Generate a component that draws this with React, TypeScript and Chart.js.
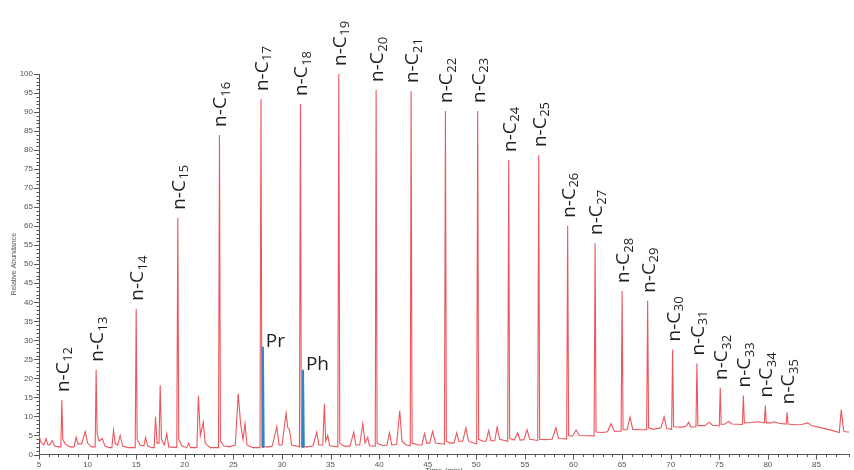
import { useEffect, useRef } from 'react';
import { Chart, registerables } from 'chart.js';

Chart.register(...registerables);

// n-alkane peaks: carbon number, retention time (min), relative abundance (%)
const alkaneCarbon = [12, 13, 14, 15, 16, 17, 18, 19, 20, 21, 22, 23, 24, 25, 26, 27, 28, 29, 30, 31, 32, 33, 34, 35];
const alkaneTime = [7.35, 10.88, 15.0, 19.28, 23.57, 27.84, 31.9, 35.85, 39.69, 43.29, 46.82, 50.14, 53.33, 56.42, 59.4, 62.22, 65.0, 67.63, 70.2, 72.7, 75.1, 77.48, 79.74, 81.98];
const alkaneAbundance = [14.3, 22.3, 38.3, 62.2, 84.0, 93.4, 92.1, 100, 95.8, 95.5, 90.3, 90.3, 77.4, 78.7, 60.1, 55.6, 43.0, 40.4, 27.6, 23.9, 17.5, 15.5, 12.9, 11.1];

// Isoprenoids: pristane and phytane
const isoprenoidName = ['Pr', 'Ph'];
const isoprenoidTime = [28.03, 32.16];
const isoprenoidAbundance = [28.3, 22.3];
const isoprenoidBase = [2.0, 2.0];

// Baseline and minor peaks of the TIC trace [time, abundance]
const backgroundTrace: [number, number][] = [
  [5.0, 5.0], [5.2, 3.2], [5.5, 2.5], [5.74, 4.2], [5.9, 2.6], [6.1, 2.5], [6.36, 3.7], [6.6, 2.2], [7.0, 2.0], [7.25, 2.0],
  [7.45, 4.0], [7.7, 2.8], [8.2, 2.0], [8.6, 2.0], [8.83, 4.5], [9.0, 2.8], [9.4, 2.8], [9.75, 6.0], [10.0, 3.0], [10.4, 2.0], [10.78, 2.0],
  [10.98, 5.5], [11.2, 3.5], [11.5, 4.2], [11.8, 2.2], [12.2, 1.8], [12.5, 1.8], [12.67, 6.4], [12.85, 2.8], [13.1, 2.5], [13.35, 5.0], [13.6, 2.2], [14.2, 1.8], [14.9, 1.8],
  [15.1, 4.0], [15.4, 2.5], [15.8, 2.3], [15.96, 4.5], [16.2, 2.2], [16.6, 1.8], [16.85, 1.8], [16.99, 9.9], [17.15, 3.0], [17.35, 3.0], [17.47, 18.2], [17.6, 4.0], [17.9, 2.5], [18.15, 5.5], [18.35, 2.0], [19.18, 1.8],
  [19.38, 4.0], [19.7, 2.3], [20.2, 1.8], [20.4, 3.0], [20.6, 1.8], [21.25, 1.8], [21.4, 15.5], [21.6, 5.0], [21.9, 8.5], [22.1, 3.0], [22.6, 1.8], [23.47, 1.8],
  [23.67, 3.5], [24.0, 2.3], [24.6, 2.0], [25.2, 2.5], [25.5, 16.0], [25.75, 8.0], [26.0, 4.0], [26.2, 8.1], [26.4, 2.5], [27.0, 1.8], [27.74, 1.8],
  [27.95, 2.0], [28.6, 2.0], [29.0, 2.2], [29.47, 7.3], [29.7, 2.5], [30.0, 2.5], [30.43, 10.8], [30.6, 7.0], [30.77, 6.5], [31.0, 2.5], [31.8, 2.0],
  [32.0, 2.0], [32.6, 2.0], [33.2, 2.3], [33.58, 5.9], [33.8, 2.5], [34.2, 2.5], [34.37, 13.3], [34.5, 3.5], [34.71, 5.0], [34.9, 2.3], [35.75, 2.0],
  [35.95, 3.0], [36.4, 2.2], [37.0, 2.2], [37.39, 5.9], [37.6, 2.5], [38.0, 2.5], [38.32, 8.1], [38.55, 3.0], [38.83, 4.5], [39.0, 2.3], [39.6, 2.2],
  [39.79, 3.0], [40.4, 2.3], [40.8, 2.5], [41.06, 5.7], [41.3, 2.5], [41.8, 2.7], [42.12, 11.5], [42.35, 3.5], [42.8, 2.5], [43.2, 2.3],
  [43.39, 3.0], [44.0, 2.5], [44.4, 2.5], [44.66, 5.5], [44.9, 3.0], [45.2, 3.0], [45.5, 6.1], [45.8, 3.0], [46.72, 2.7],
  [46.92, 3.5], [47.3, 3.0], [47.7, 3.0], [47.98, 5.7], [48.2, 3.5], [48.6, 3.5], [48.93, 7.0], [49.2, 3.5], [49.7, 3.0], [50.04, 2.8],
  [50.24, 4.0], [50.7, 3.5], [51.0, 3.5], [51.27, 6.3], [51.5, 3.6], [51.9, 3.6], [52.14, 7.2], [52.4, 4.0], [53.23, 3.5],
  [53.43, 4.2], [53.9, 3.8], [54.26, 5.7], [54.5, 3.8], [54.9, 3.9], [55.22, 6.5], [55.5, 4.0], [56.32, 3.7],
  [56.52, 4.0], [57.0, 3.9], [57.8, 4.0], [58.2, 7.0], [58.45, 4.2], [59.3, 4.1],
  [59.5, 5.0], [59.9, 4.8], [60.26, 6.5], [60.6, 5.0], [62.12, 4.9],
  [62.32, 5.9], [63.0, 5.8], [63.5, 6.0], [63.87, 8.1], [64.2, 6.1], [64.9, 6.1],
  [65.1, 6.5], [65.5, 6.5], [65.82, 9.8], [66.1, 6.6], [67.0, 6.5], [67.53, 6.5],
  [67.73, 7.0], [68.2, 6.6], [69.0, 7.0], [69.32, 9.9], [69.6, 6.8], [70.1, 6.6],
  [70.3, 7.3], [71.2, 7.2], [71.6, 7.4], [71.85, 8.5], [72.1, 7.2], [72.6, 7.3],
  [72.8, 7.6], [73.5, 7.6], [73.97, 8.5], [74.3, 7.7], [75.0, 7.5],
  [75.2, 7.9], [75.6, 8.0], [75.94, 8.7], [76.3, 8.0], [77.38, 7.9],
  [77.58, 8.3], [78.3, 8.4], [79.0, 8.6], [79.64, 8.3],
  [79.84, 8.3], [80.3, 8.3], [80.67, 8.6], [81.1, 8.2], [81.88, 8.0],
  [82.08, 8.0], [82.8, 7.8], [83.5, 7.9], [84.1, 8.3], [84.5, 7.6], [85.5, 7.0], [86.5, 6.4], [87.35, 5.8], [87.55, 11.8], [87.8, 6.2], [88.1, 5.9], [88.35, 5.9],
];

// Axis settings
const timeMin = 5;
const timeMax = 88.35;
const abundanceMin = 0;
const abundanceMax = 100;
const majorStep = 5;
const xAxisTitle = 'Time (min)';
const yAxisTitle = 'Relative Abundance';

const RED = '#ee565d';
const BLUE = '#2e86c9';
const AXIS = '#555555';
const LABEL_FONT = '"Open Sans", "DejaVu Sans", sans-serif';
const TICK_FONT = '"Liberation Sans", Arial, sans-serif';

export default function App() {
  const canvasRef = useRef<HTMLCanvasElement | null>(null);

  useEffect(() => {
    const canvas = canvasRef.current;
    if (!canvas) return;

    const trace = [
      ...backgroundTrace.map(([x, y]) => ({ x, y })),
      ...alkaneTime.map((t, i) => ({ x: t, y: alkaneAbundance[i] })),
    ].sort((a, b) => a.x - b.x);

    const isoprenoidTrace: { x: number; y: number | null }[] = [];
    isoprenoidTime.forEach((t, i) => {
      isoprenoidTrace.push({ x: t - 0.05, y: isoprenoidBase[i] });
      isoprenoidTrace.push({ x: t, y: isoprenoidAbundance[i] });
      isoprenoidTrace.push({ x: t + 0.08, y: isoprenoidBase[i] });
      isoprenoidTrace.push({ x: t + 0.1, y: null });
    });

    // Axis ticks: long ones at labelled values, short ones in between
    const tickMarks = {
      id: 'tickMarks',
      afterDraw(chart: any) {
        const { ctx } = chart;
        const xs = chart.scales.x;
        const ys = chart.scales.y;
        ctx.save();
        ctx.strokeStyle = AXIS;
        ctx.lineWidth = 1;
        ctx.beginPath();
        xs.ticks.forEach((tk: any) => {
          const px = Math.round(xs.getPixelForValue(tk.value)) + 0.5;
          const len = tk.value % majorStep === 0 ? 5 : 2.5;
          ctx.moveTo(px, xs.top);
          ctx.lineTo(px, xs.top + len);
        });
        ys.ticks.forEach((tk: any) => {
          const py = Math.round(ys.getPixelForValue(tk.value)) + 0.5;
          const len = tk.value % majorStep === 0 ? 5 : 2.5;
          ctx.moveTo(ys.right, py);
          ctx.lineTo(ys.right - len, py);
        });
        ctx.stroke();
        // x-axis title sits below the tick labels
        ctx.fillStyle = AXIS;
        ctx.font = `8px ${TICK_FONT}`;
        ctx.textAlign = 'center';
        ctx.textBaseline = 'top';
        ctx.fillText(xAxisTitle, (chart.chartArea.left + chart.chartArea.right) / 2, 467);
        ctx.restore();
      },
    };

    // Peak names drawn above the apexes
    const peakNames = {
      id: 'peakNames',
      afterDatasetsDraw(chart: any) {
        const { ctx } = chart;
        const xs = chart.scales.x;
        const ys = chart.scales.y;
        ctx.save();
        ctx.fillStyle = '#1f1f1f';
        ctx.textAlign = 'left';
        ctx.textBaseline = 'alphabetic';
        alkaneCarbon.forEach((c, i) => {
          const px = xs.getPixelForValue(alkaneTime[i]);
          const py = ys.getPixelForValue(alkaneAbundance[i]);
          ctx.save();
          ctx.translate(px, py - 8);
          ctx.rotate(-Math.PI / 2);
          ctx.font = `19px ${LABEL_FONT}`;
          const main = 'n-C';
          ctx.fillText(main, 0, 7);
          const w = ctx.measureText(main).width;
          ctx.font = `13px ${LABEL_FONT}`;
          ctx.fillText(String(c), w + 0.5, 10.5);
          ctx.restore();
        });
        ctx.font = `19px ${LABEL_FONT}`;
        isoprenoidName.forEach((name, i) => {
          const px = xs.getPixelForValue(isoprenoidTime[i]);
          const py = ys.getPixelForValue(isoprenoidAbundance[i]);
          ctx.fillText(name, px + 3, py);
        });
        ctx.restore();
      },
    };

    const chart = new Chart(canvas, {
      type: 'line',
      data: {
        datasets: [
          {
            data: isoprenoidTrace as any,
            borderColor: BLUE,
            borderWidth: 2.2,
            pointRadius: 0,
            spanGaps: false,
            tension: 0,
          },
          {
            data: trace as any,
            borderColor: RED,
            borderWidth: 1.1,
            pointRadius: 0,
            tension: 0,
          },
        ],
      },
      options: {
        animation: false,
        responsive: false,
        maintainAspectRatio: false,
        events: [],
        layout: { padding: { top: 74, right: 0, bottom: 0, left: 0 } },
        plugins: {
          legend: { display: false },
          tooltip: { enabled: false },
        },
        scales: {
          x: {
            type: 'linear',
            min: timeMin,
            max: timeMax,
            afterFit: (scale: any) => {
              scale.height = 15.5;
            },
            border: { display: true, color: AXIS, width: 1 },
            grid: { display: false, drawTicks: false },
            ticks: {
              stepSize: 1,
              autoSkip: false,
              maxRotation: 0,
              padding: 5,
              color: AXIS,
              font: { family: TICK_FONT, size: 8 },
              callback: (v: any) => (Number(v) % majorStep === 0 ? String(v) : ''),
            },
          },
          y: {
            type: 'linear',
            min: abundanceMin,
            max: abundanceMax,
            afterFit: (scale: any) => {
              scale.width = 39;
            },
            border: { display: true, color: AXIS, width: 1 },
            grid: { display: false, drawTicks: false },
            title: {
              display: true,
              text: yAxisTitle,
              color: AXIS,
              font: { family: TICK_FONT, size: 7 },
              padding: { top: 10, bottom: 0 },
            },
            ticks: {
              stepSize: 1,
              autoSkip: false,
              padding: 6,
              color: AXIS,
              font: { family: TICK_FONT, size: 8 },
              callback: (v: any) => (Number(v) % majorStep === 0 ? String(v) : ''),
            },
          },
        },
      },
      plugins: [tickMarks, peakNames],
    });

    return () => chart.destroy();
  }, []);

  return (
    <div style={{ position: 'fixed', left: 0, top: 0, width: 854, height: 470, background: '#ffffff' }}>
      <canvas ref={canvasRef} width={854} height={470} style={{ display: 'block' }} />
    </div>
  );
}
